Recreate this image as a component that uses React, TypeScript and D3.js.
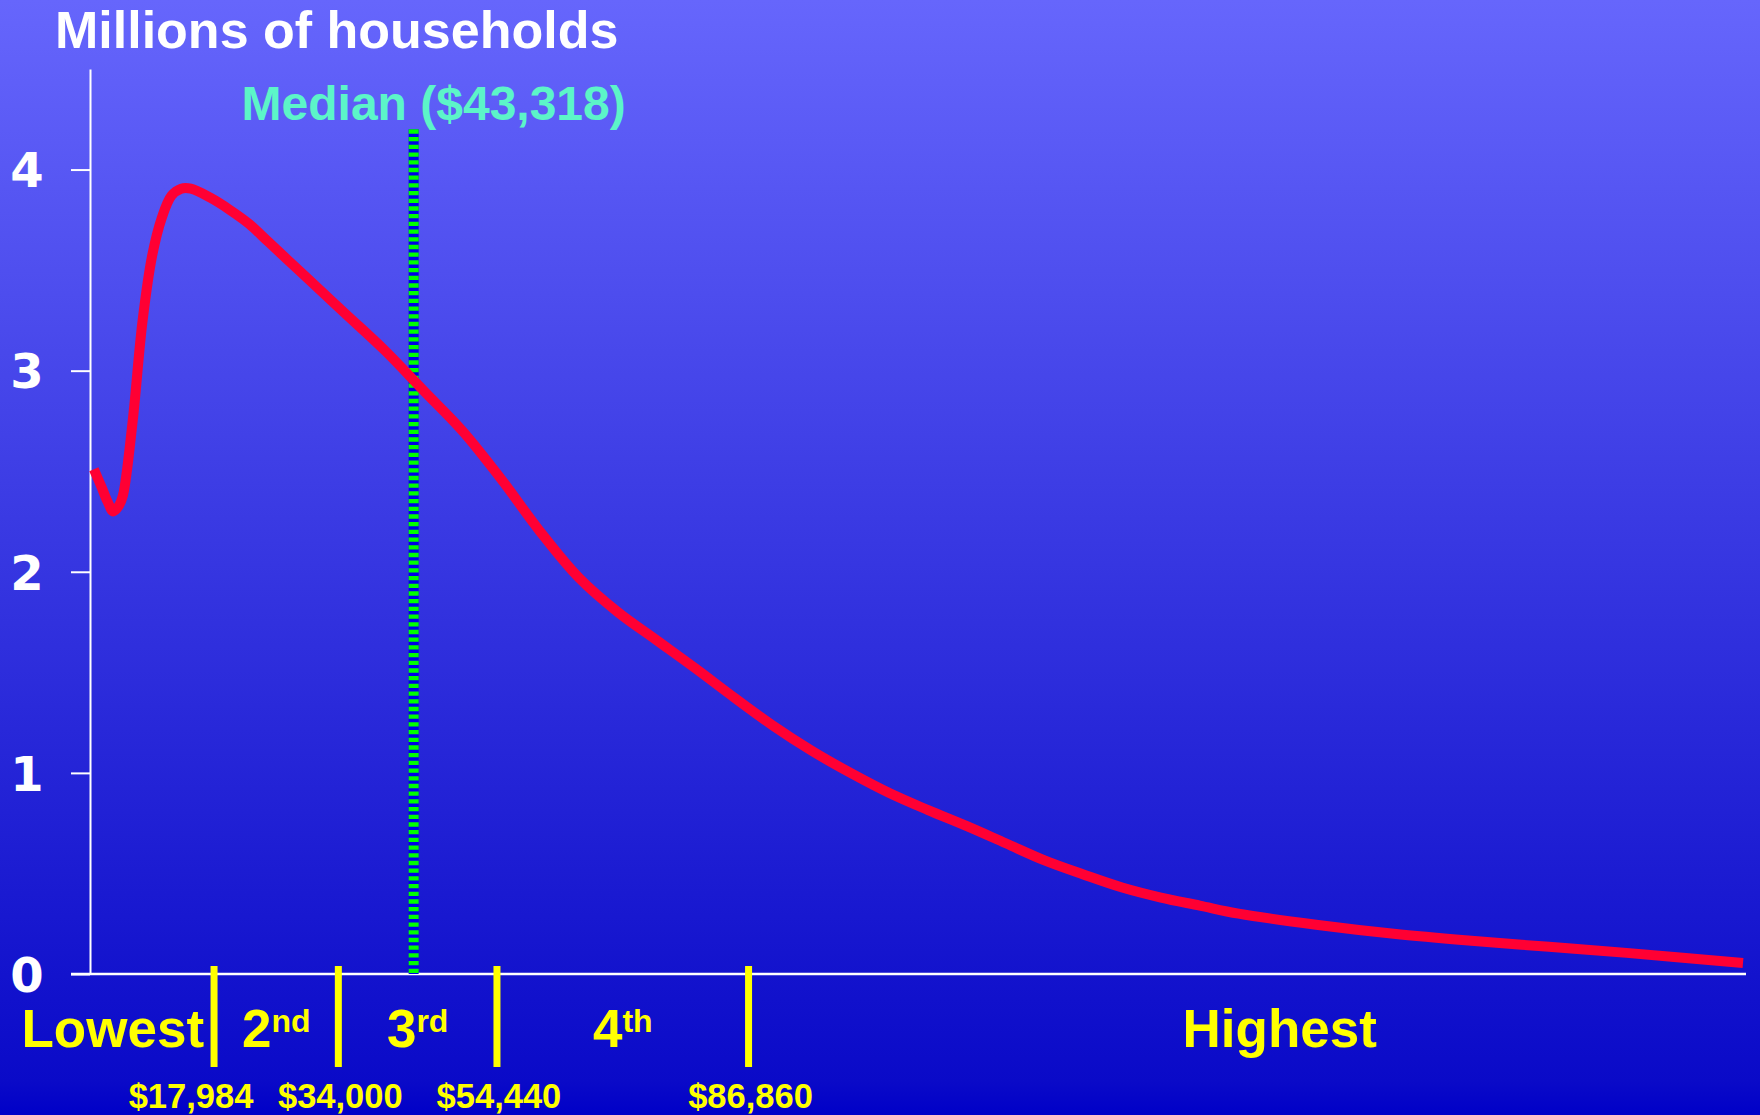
import { useEffect, useRef } from 'react';
import * as d3 from 'd3';

// household income ($) and millions of households
const incomes = [
  2500, 3500, 4250, 5000, 5750, 6250, 7500, 8750, 10000, 11250, 12500, 13750, 15000, 17500,
  20000, 22500, 25000, 27500, 30000, 35000, 40000, 45000, 50000, 55000, 60000, 65000, 70000,
  75000, 80000, 85000, 90000, 95000, 100000, 105000, 110000, 115000, 120000, 125000, 130000,
  135000, 140000, 145000, 150000, 160000, 170000, 180000, 190000, 200000, 215000,
];
const households = [
  2.51, 2.42, 2.35, 2.3, 2.33, 2.38, 2.75, 3.24, 3.57, 3.76, 3.87, 3.905, 3.905, 3.86,
  3.8, 3.73, 3.64, 3.55, 3.46, 3.28, 3.1, 2.9, 2.7, 2.46, 2.2, 1.97, 1.8,
  1.66, 1.52, 1.375, 1.235, 1.11, 1.0, 0.9, 0.815, 0.735, 0.65, 0.565, 0.495,
  0.43, 0.38, 0.34, 0.3, 0.245, 0.2, 0.165, 0.135, 0.105, 0.055,
];

const quintileCuts = [17984, 34000, 54440, 86860];
const quintileCutLabels = ['$17,984', '$34,000', '$54,440', '$86,860'];
const quintileNames = ['Lowest', '2', '3', '4', 'Highest'];
const quintileSups = ['', 'nd', 'rd', 'th', ''];

const medianIncome = 43318;
const medianLabel = 'Median ($43,318)';
const yTicks = [0, 1, 2, 3, 4];

const W = 1760;
const H = 1115;
const FONT = '"Liberation Sans", Arial, sans-serif';

export default function App() {
  const svgRef = useRef<SVGSVGElement>(null);

  useEffect(() => {
    if (!svgRef.current) return;
    const svg = d3.select(svgRef.current);
    svg.selectAll('*').remove();

    const margin = { top: 69, right: 17, bottom: 141, left: 90 };
    const x = d3.scaleLinear().domain([2000, 215000]).range([margin.left, W - margin.right]);
    const y = d3.scaleLinear().domain([0, 4.5]).range([H - margin.bottom, margin.top]);
    const y0 = y(0);

    // background gradient
    const grad = svg.append('defs').append('linearGradient')
      .attr('id', 'bg').attr('x1', 0).attr('y1', 0).attr('x2', 0).attr('y2', 1);
    grad.append('stop').attr('offset', '0%').attr('stop-color', '#6666fc');
    grad.append('stop').attr('offset', '97%').attr('stop-color', '#0a0ac8');
    grad.append('stop').attr('offset', '100%').attr('stop-color', '#0000c8');
    svg.append('rect').attr('width', W).attr('height', H).attr('fill', 'url(#bg)');

    svg.append('text')
      .attr('x', 55).attr('y', 48)
      .style('font-family', FONT).style('font-weight', 'bold').style('font-size', '52px')
      .style('fill', '#ffffff')
      .text('Millions of households');

    // y axis
    const yAxis = svg.append('g')
      .attr('transform', `translate(${margin.left},0)`)
      .call(d3.axisLeft(y).tickValues(yTicks).tickSize(19).tickSizeOuter(0).tickFormat(d3.format('d')));
    yAxis.select('.domain').attr('stroke', '#ffffff').attr('stroke-width', 2);
    yAxis.selectAll('line').attr('stroke', '#ffffff').attr('stroke-width', 2);
    yAxis.selectAll('text')
      .attr('x', -63).attr('dy', '0.36em')
      .style('text-anchor', 'middle')
      .style('font-family', '"DejaVu Sans", Verdana, sans-serif')
      .style('font-weight', 'bold').style('font-size', '48px')
      .style('fill', '#ffffff');

    // x axis
    svg.append('line')
      .attr('x1', margin.left - 19).attr('x2', x.range()[1] + 3)
      .attr('y1', y0).attr('y2', y0)
      .attr('stroke', '#ffffff').attr('stroke-width', 2.5);

    // median line
    const mx = x(medianIncome) + 3;
    svg.append('line')
      .attr('x1', mx).attr('x2', mx).attr('y1', y(4.2)).attr('y2', y0)
      .attr('stroke', '#0000e6').attr('stroke-width', 10);
    svg.append('line')
      .attr('x1', mx).attr('x2', mx).attr('y1', y(4.2)).attr('y2', y0)
      .attr('stroke', '#00ff00').attr('stroke-width', 10)
      .attr('stroke-dasharray', '4.3 3.4');
    svg.append('text')
      .attr('x', mx + 20).attr('y', 120)
      .style('text-anchor', 'middle')
      .style('font-family', FONT).style('font-weight', 'bold').style('font-size', '48px')
      .style('fill', '#5cf5c8')
      .text(medianLabel);

    // distribution curve
    const points: [number, number][] = incomes.map((d, i) => [d, households[i]]);
    const line = d3.line<[number, number]>()
      .x(d => x(d[0]))
      .y(d => y(d[1]))
      .curve(d3.curveCatmullRom.alpha(0.5));
    svg.append('path')
      .attr('d', line(points))
      .attr('fill', 'none')
      .attr('stroke', '#ff0033')
      .attr('stroke-width', 10)
      .attr('stroke-linejoin', 'round');

    // quintile separators
    svg.selectAll('.cut')
      .data(quintileCuts)
      .enter()
      .append('rect')
      .attr('class', 'cut')
      .attr('x', d => x(d) - 3.5)
      .attr('y', y0 - 8)
      .attr('width', 7)
      .attr('height', 101)
      .attr('fill', '#ffff00');

    svg.selectAll('.cutLabel')
      .data(quintileCuts)
      .enter()
      .append('text')
      .attr('class', 'cutLabel')
      .attr('x', (d, i) => x(d) + (i === 0 ? -23 : 2))
      .attr('y', 1108)
      .style('text-anchor', 'middle')
      .style('font-family', FONT).style('font-weight', 'bold').style('font-size', '34.5px')
      .style('fill', '#ffff00')
      .text((d, i) => quintileCutLabels[i]);

    // quintile names
    const bounds = [margin.left, ...quintileCuts.map(d => x(d)), x.range()[1]];
    const names = svg.selectAll('.qname')
      .data(quintileNames)
      .enter()
      .append('text')
      .attr('class', 'qname')
      .attr('x', (d, i) => {
        if (i === 0) return bounds[1] - 10;
        const c = (bounds[i] + bounds[i + 1]) / 2;
        return i === 4 ? c + 34 : c;
      })
      .attr('y', 1047)
      .style('text-anchor', (d, i) => (i === 0 ? 'end' : 'middle'))
      .style('font-family', FONT).style('font-weight', 'bold').style('font-size', '53px')
      .style('fill', '#ffff00');
    names.append('tspan').text(d => d);
    names.append('tspan')
      .attr('dy', -15)
      .style('font-size', '32px')
      .text((d, i) => quintileSups[i]);
  }, []);

  return (
    <svg
      ref={svgRef}
      width={W}
      height={H}
      style={{ position: 'absolute', left: 0, top: 0, display: 'block' }}
    />
  );
}
